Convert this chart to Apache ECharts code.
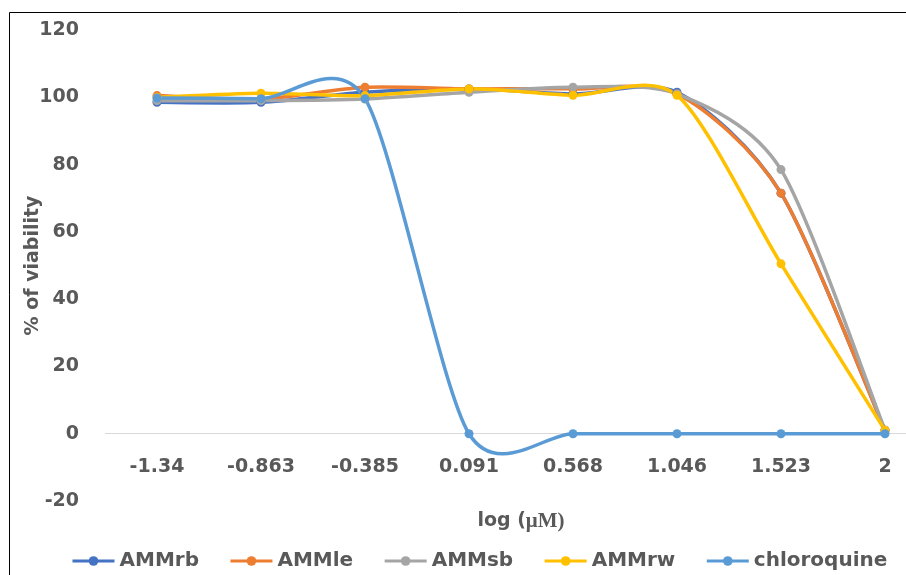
<!DOCTYPE html>
<html>
<head>
<meta charset="utf-8">
<script src="https://cdn.jsdelivr.net/npm/echarts@6/dist/echarts.min.js"></script>
<style>
  html, body { margin: 0; padding: 0; background: #fff; overflow: hidden; }
  #chart { width: 906px; height: 575px; }
</style>
</head>
<body>
<div id="chart"></div>
<script>
// ── Data ───────────────────────────────────────────────
const categories  = ['-1.34', '-0.863', '-0.385', '0.091', '0.568', '1.046', '1.523', '2'];
const ammRb       = [98.5, 98.5, 101.5, 102.5, 101, 101.5, 71.5, 1];
const ammLe       = [100.5, 99.5, 103, 102.5, 102.5, 101, 71.5, 1];
const ammSb       = [99, 99, 99.5, 101.5, 103, 101, 78.5, 1];
const ammRw       = [100, 101.2, 100.5, 102.5, 100.6, 100.6, 50.5, 1];
const chloroquine = [99.8, 99.6, 99.6, 0, 0, 0, 0, 0];

const seriesNames  = ['AMMrb', 'AMMle', 'AMMsb', 'AMMrw', 'chloroquine'];
const seriesValues = [ammRb, ammLe, ammSb, ammRw, chloroquine];
const seriesColors = ['#4472C4', '#ED7D31', '#A5A5A5', '#FFC000', '#5B9BD5'];

// ── Style ──────────────────────────────────────────────
const FONT       = "'DejaVu Sans', sans-serif";
const TEXT_COLOR = '#595959';
const LINE_W     = 3.5;
const TENSION    = 0.135;   // Excel-like smoothing (Catmull-Rom style)

const chart = echarts.init(document.getElementById('chart'));

// Smoothed segment i → i+1, with control points from neighbours (overshoots like Excel)
function smoothRenderer(vals, color) {
  return function (params, api) {
    const i = params.dataIndex;
    const n = vals.length;
    if (i >= n - 1) return null;
    const c  = j => Math.max(0, Math.min(n - 1, j));
    const pt = j => api.coord([c(j), vals[c(j)]]);
    const p0 = pt(i - 1), p1 = pt(i), p2 = pt(i + 1), p3 = pt(i + 2);
    return {
      type: 'bezierCurve',
      shape: {
        x1: p1[0], y1: p1[1],
        x2: p2[0], y2: p2[1],
        cpx1: p1[0] + (p2[0] - p0[0]) * TENSION,
        cpy1: p1[1] + (p2[1] - p0[1]) * TENSION,
        cpx2: p2[0] - (p3[0] - p1[0]) * TENSION,
        cpy2: p2[1] - (p3[1] - p1[1]) * TENSION,
      },
      style: { fill: 'none', stroke: color, lineWidth: LINE_W, lineCap: 'round' },
    };
  };
}

const series = [];
seriesNames.forEach((name, k) => {
  // markers (also the legend source)
  series.push({
    name,
    type: 'line',
    data: seriesValues[k],
    symbol: 'circle',
    symbolSize: 9,
    z: 3,
    lineStyle: { width: LINE_W, color: seriesColors[k], opacity: 0 },
    itemStyle: { color: seriesColors[k] },
    markLine: k === 0 ? {
      silent: true,
      symbol: 'none',
      label: { show: false },
      lineStyle: { color: '#D9D9D9', width: 1, type: 'solid' },
      data: [{ yAxis: 0 }],
      z: 1,
    } : undefined,
  });
  // smoothed line
  series.push({
    name,
    type: 'custom',
    data: seriesValues[k].map((v, i) => [i, v]),
    encode: { x: 0, y: 1 },
    z: 2,
    renderItem: smoothRenderer(seriesValues[k], seriesColors[k]),
  });
});

chart.setOption({
  backgroundColor: '#fff',
  animation: false,
  color: seriesColors,

  graphic: [{
    type: 'rect',
    shape: { x: 9.5, y: 12.5, width: 1000, height: 1000 },
    style: { fill: 'none', stroke: '#000', lineWidth: 1 },
    silent: true,
  }],

  grid: { left: 105, top: 30, width: 832, height: 471, outerBoundsMode: 'none' },

  legend: {
    data: seriesNames,
    left: 66,
    top: 546,
    itemWidth: 42,
    itemHeight: 12,
    itemGap: 30,
    lineStyle: { opacity: 1, width: 3 },
    textStyle: { fontFamily: FONT, fontSize: 20, fontWeight: 'bold', color: TEXT_COLOR },
  },

  xAxis: {
    type: 'category',
    data: categories,
    boundaryGap: true,
    offset: -67,
    axisLine:  { show: false, onZero: false },
    axisTick:  { show: false },
    axisLabel: { margin: 24, fontFamily: FONT, fontSize: 19, fontWeight: 'bold', color: TEXT_COLOR },
    name: '{a|log (}{b|μM)}',
    nameLocation: 'middle',
    nameGap: 77,
    nameMoveOverlap: false,
    nameTextStyle: {
      rich: {
        a: { fontFamily: FONT, fontSize: 19, fontWeight: 'bold', color: TEXT_COLOR },
        b: { fontFamily: "'Liberation Serif', serif", fontSize: 21, fontWeight: 'bold', color: TEXT_COLOR },
      },
    },
  },

  yAxis: {
    type: 'value',
    min: -20,
    max: 120,
    interval: 20,
    axisLine:  { show: false },
    axisTick:  { show: false },
    splitLine: { show: false },
    axisLabel: { margin: 26, fontFamily: FONT, fontSize: 19, fontWeight: 'bold', color: TEXT_COLOR },
    name: '% of viability',
    nameLocation: 'middle',
    nameGap: 62,
    nameMoveOverlap: false,
    nameTextStyle: { fontFamily: FONT, fontSize: 19, fontWeight: 'bold', color: TEXT_COLOR },
  },

  series,
});
</script>
</body>
</html>
